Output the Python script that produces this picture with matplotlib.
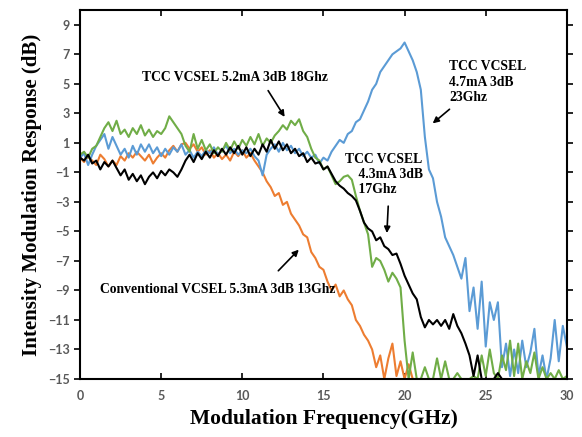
import numpy as np
import matplotlib.pyplot as plt

# frequency grid (GHz), step 0.25
freq = np.arange(0, 30.01, 0.25)

# TCC VCSEL 4.7mA (blue)
tcc_47 = [0.0, 0.3, -0.5, 0.2, 0.8, 1.2, 1.6, 0.6, 1.4, 0.8, 0.2, 0.6,
          0.0, 0.8, 0.2, 0.9, 0.4, 0.9, 0.3, 0.7, 0.1, 0.6, 0.2, 0.7,
          0.4, 0.9, 0.2, 0.5, 0.0, 0.4, 0.1, 0.5, 0.3, 0.7, 0.2, 0.5,
          0.8, 0.3, 0.6, 0.2, 0.5, 0.3, 0.6, 0.1, -0.2, -1.2, 0.2, 0.6,
          0.9, 0.4, 1.0, 0.5, 0.8, 0.3, 0.6, 0.1, 0.4, 0.0, 0.2, -0.4,
          0.0, -0.2, 0.4, 0.8, 1.2, 1.0, 1.6, 1.8, 2.4, 2.6, 3.2, 3.8,
          4.6, 5.0, 5.8, 6.2, 6.6, 7.0, 7.2, 7.4, 7.8, 7.2, 6.6, 5.8,
          4.6, 1.4, -0.8, -1.4, -3.0, -4.0, -5.4, -6.0, -6.6, -7.4, -8.2, -6.8,
          -10.4, -8.8, -11.6, -8.4, -12.8, -9.8, -11.0, -9.8, -14.2, -12.6, -14.8, -13.0,
          -14.6, -12.4, -14.2, -13.2, -11.6, -14.8, -13.4, -15.0, -13.6, -11.0, -13.8, -11.4,
          -12.8]

# TCC VCSEL 5.2mA (green)
tcc_52 = [0.2, 0.4, 0.0, 0.6, 0.8, 1.4, 2.0, 2.4, 1.8, 2.5, 1.6, 1.9,
          1.4, 2.0, 1.6, 2.2, 1.5, 1.9, 1.4, 1.8, 1.6, 2.0, 2.8, 2.4,
          2.0, 1.6, 0.8, 0.4, 1.6, 0.6, 1.2, 0.5, 0.9, 0.3, 0.7, 0.4,
          1.0, 0.5, 1.1, 0.6, 1.2, 0.8, 1.4, 0.9, 1.6, 0.8, 1.3, 1.0,
          1.5, 1.8, 2.2, 1.9, 2.5, 2.2, 2.6, 1.8, 1.4, 0.6, 0.0, -0.2,
          -0.8, -0.6, -1.2, -1.8, -1.6, -1.3, -1.2, -1.5, -2.6, -3.6, -4.4, -5.2,
          -7.4, -6.8, -7.0, -7.6, -8.4, -7.8, -8.2, -8.8, -12.4, -15.0, -13.2, -15.0,
          -15.0, -14.2, -15.0, -15.0, -13.6, -15.0, -13.8, -15.0, -15.0, -14.6, -15.0, -15.0,
          -15.0, -14.8, -15.0, -13.4, -14.8, -13.0, -14.6, -15.0, -13.4, -14.4, -12.4, -14.8,
          -12.6, -15.0, -13.8, -14.6, -13.2, -15.0, -14.2, -15.0, -14.6, -15.0, -14.4, -15.0,
          -14.8]

# TCC VCSEL 4.3mA (black), ends near 26 GHz
tcc_43 = [0.0, -0.2, 0.2, -0.4, -0.2, -0.8, -0.3, -0.6, -0.2, -0.7, -1.2, -0.8,
          -1.5, -1.1, -1.6, -1.2, -1.8, -1.3, -1.0, -1.4, -0.9, -1.2, -0.8, -1.0,
          -1.3, -0.8, -0.2, 0.2, -0.3, 0.3, -0.1, 0.4, 0.0, 0.5, 0.1, 0.6,
          0.2, 0.7, 0.3, 0.8, 0.2, 0.7, 0.1, 0.6, 0.2, 0.9, 0.4, 1.2,
          0.6, 1.1, 0.5, 0.9, 0.3, 0.6, 0.1, 0.3, -0.3, 0.0, -0.4, -0.3,
          -0.8, -0.6, -1.1, -1.6, -1.9, -2.1, -2.4, -2.6, -2.9, -3.6, -4.4, -4.8,
          -5.0, -5.6, -5.4, -6.0, -6.2, -6.6, -6.5, -7.2, -8.0, -8.6, -9.2, -9.6,
          -10.8, -11.5, -11.0, -11.3, -11.0, -11.4, -11.0, -11.6, -10.6, -11.4, -11.9, -12.6,
          -13.4, -14.8, -13.4, -15.0, -15.0, -15.0, -15.0, -14.6, -15.0]

# Conventional VCSEL 5.3mA (orange), ends near 20.5 GHz
conv_53 = [0.0, -0.3, 0.1, -0.2, -0.5, 0.2, -0.1, -0.6, -0.2, -0.5, 0.1, -0.2,
           0.3, 0.0, 0.4, 0.1, -0.2, 0.2, -0.4, 0.0, 0.3, 0.0, 0.5, 0.8,
           0.4, 0.9, 1.0, 0.6, 0.9, 0.4, 0.7, 0.2, 0.5, 0.0, 0.3, -0.1,
           0.2, -0.2, 0.4, 0.1, 0.5, 0.0, 0.3, -0.2, -0.6, -1.0, -1.6, -2.0,
           -2.6, -2.4, -3.2, -3.0, -3.8, -4.2, -4.6, -5.2, -5.4, -6.4, -6.8, -7.4,
           -7.6, -8.4, -9.0, -8.6, -9.4, -9.0, -9.6, -10.0, -11.0, -11.4, -12.0, -12.4,
           -13.0, -14.2, -13.4, -15.0, -13.6, -12.6, -14.8, -13.8, -15.0, -14.0, -15.0]

serif = ['Liberation Serif', 'DejaVu Serif']

fig = plt.figure(figsize=(5.82, 4.37), dpi=100)
ax = fig.add_axes([0.1375, 0.1327, 0.8365, 0.8443])

ax.plot(freq[:len(conv_53)], conv_53, color='#ed7d31', lw=1.5)
ax.plot(freq, tcc_47, color='#5b9bd5', lw=1.5)
ax.plot(freq, tcc_52, color='#70ad47', lw=1.5)
ax.plot(freq[:len(tcc_43)], tcc_43, color='black', lw=1.5)

ax.set_xlim(0, 30)
ax.set_ylim(-15, 10)
ax.set_xticks(np.arange(0, 31, 5))
ax.set_yticks(np.arange(-15, 10, 2))
ax.tick_params(axis='x', direction='in', top=True, length=4, width=1.2, pad=8)
ax.tick_params(axis='y', direction='out', right=True, length=4, width=1.2)
for lab in ax.get_xticklabels() + ax.get_yticklabels():
    lab.set_fontfamily('Lato')
    lab.set_fontweight('bold')
    lab.set_fontsize(9)
    lab.set_color('#595959')
for sp in ax.spines.values():
    sp.set_linewidth(1.5)

ax.set_xlabel('Modulation Frequency(GHz)', family=serif, fontweight='bold', fontsize=15.5, labelpad=5)
ax.set_ylabel('Intensity Modulation Response (dB)', family=serif, fontweight='bold', fontsize=15, labelpad=4)

ann = dict(family=serif, fontweight='bold', fontsize=9.8)
arrow = dict(arrowstyle='-|>', color='black', lw=1.2, mutation_scale=9)

ax.annotate('', xy=(12.7, 2.6), xytext=(11.5, 4.7), arrowprops=arrow)
ax.text(3.8, 5.4, 'TCC VCSEL 5.2mA 3dB 18Ghz', va='center', **ann)

ax.annotate('', xy=(21.6, 2.2), xytext=(22.9, 3.4), arrowprops=arrow)
ax.text(22.75, 5.1, 'TCC VCSEL\n4.7mA 3dB\n23Ghz', va='center', linespacing=1.25, **ann)

ax.annotate('', xy=(18.9, -5.3), xytext=(19.0, -3.1), arrowprops=arrow)
ax.text(16.3, -1.15, 'TCC VCSEL\n    4.3mA 3dB\n    17Ghz', va='center', linespacing=1.2, **ann)

ax.annotate('', xy=(13.6, -6.1), xytext=(12.1, -7.8), arrowprops=arrow)
ax.text(1.25, -8.95, 'Conventional VCSEL 5.3mA 3dB 13Ghz', va='center', **ann)

fig.savefig('out.png', dpi=100)
